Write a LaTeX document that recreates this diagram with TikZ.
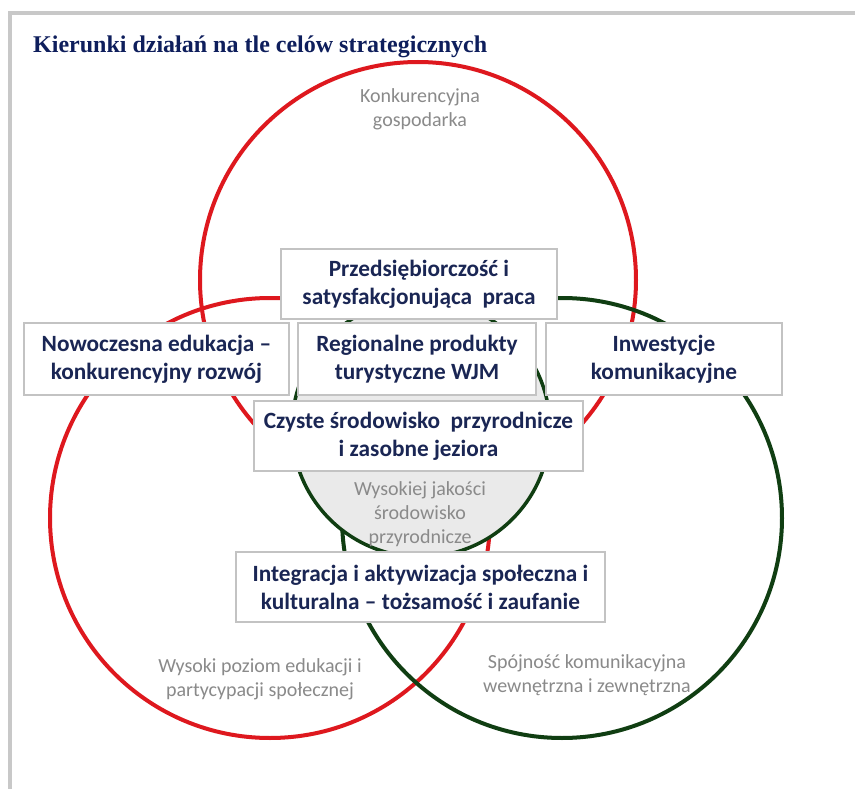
\documentclass[tikz,border=0pt]{standalone}
\usepackage{fontspec}
\setmainfont{Liberation Serif}
\newfontfamily\calib{Carlito}
\definecolor{titlenavy}{RGB}{14,30,92}
\definecolor{boxtext}{RGB}{26,38,84}
\definecolor{boxgray}{RGB}{195,195,195}
\definecolor{lblgray}{RGB}{138,138,138}
\definecolor{ringred}{RGB}{222,24,30}
\definecolor{ringgreen}{RGB}{16,62,18}
\definecolor{innerfill}{RGB}{234,234,234}
\definecolor{framegray}{RGB}{200,200,200}
\begin{document}
\begin{tikzpicture}[x=1pt,y=-1pt,
  redring/.style={draw=ringred, line width=4pt},
  greenring/.style={draw=ringgreen, line width=4pt},
  innerring/.style={draw=ringgreen, line width=3.5pt, fill=innerfill},
  box/.style={draw=boxgray, line width=1.2pt, fill=white, align=center, text=boxtext,
    font=\calib\bfseries\fontsize{23.3}{28}\selectfont, inner sep=0pt},
  lbl/.style={align=center, text=lblgray, font=\calib\fontsize{20}{24}\selectfont, inner sep=0pt},
  ttl/.style={anchor=base west, text=titlenavy, font=\bfseries\fontsize{24}{28}\selectfont, inner sep=0pt}]
\useasboundingbox (0,0) rectangle (855,789);
\fill[white] (0,0) rectangle (855,789);
% frame
\draw[framegray, line width=3.5pt] (857,13) -- (10,13) -- (10,791);
% title
\node[ttl] (title) at (33,53) {Kierunki działań na tle celów strategicznych};
% big circles
\draw[redring] (418,280) circle (218pt);
\draw[redring] (270,518) circle (220pt);
\draw[greenring] (562,518) circle (220pt);
% inner circle
\draw[innerring] (421,428) circle (129pt);
% circle labels
\node[lbl] (lcomp) at (420,109) {Konkurencyjna\\gospodarka};
\node[lbl] (lenv) at (420,514) {Wysokiej jakości\\środowisko\\przyrodnicze};
\node[lbl] (ledu) at (260,679) {Wysoki poziom edukacji i\\partycypacji społecznej};
\node[lbl] (lcom) at (587,675) {Spójność komunikacyjna\\wewnętrzna i zewnętrzna};
% boxes
\node[box, minimum width=276pt, minimum height=70pt] (p) at (419,284) {Przedsiębiorczość i\\satysfakcjonująca\ \ praca};
\node[box, minimum width=265pt, minimum height=72pt] (n) at (156.5,359) {Nowoczesna edukacja –\\konkurencyjny rozwój};
\node[box, minimum width=238pt, minimum height=72pt] (r) at (417,359) {Regionalne produkty\\turystyczne WJM};
\node[box, minimum width=236pt, minimum height=72pt] (i) at (664,359) {Inwestycje\\komunikacyjne};
\node[box, minimum width=329pt, minimum height=70pt] (c) at (418.5,436) {Czyste środowisko\ \ przyrodnicze\\i zasobne jeziora};
\node[box, minimum width=369pt, minimum height=70pt] (g) at (420.5,587) {Integracja i aktywizacja społeczna i\\kulturalna – tożsamość i zaufanie};
\end{tikzpicture}
\end{document}
